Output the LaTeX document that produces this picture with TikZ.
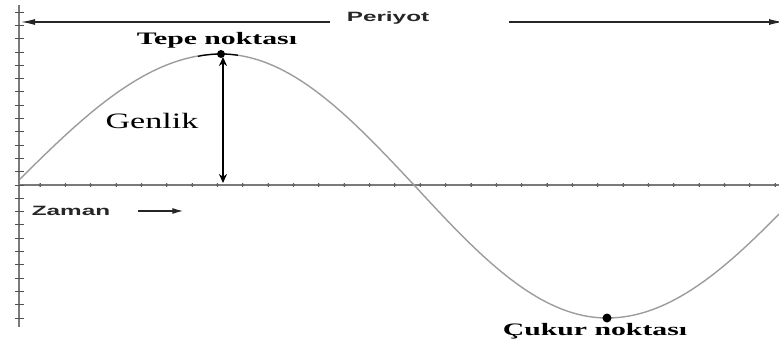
\documentclass[tikz,border=0pt]{standalone}
\usepackage{fontspec}
\usetikzlibrary{arrows.meta}
\newfontfamily\noktafont[FakeStretch=1.7]{Liberation Serif}
\newfontfamily\genlikfont[FakeStretch=1.55]{Liberation Serif}
\newfontfamily\etiketfont[FakeStretch=1.8]{Liberation Sans}
\definecolor{dalga}{HTML}{9C9C9C}
\definecolor{eksen}{HTML}{7A7A7A}
\definecolor{koyu}{HTML}{262626}
\tikzset{
    nokta/.style={inner sep=0pt, font=\noktafont\bfseries\fontsize{17.5}{17.5}\selectfont},
    genliklabel/.style={inner sep=0pt, font=\genlikfont\fontsize{22}{22}\selectfont},
    etiket/.style={inner sep=0pt, text=koyu, font=\etiketfont\bfseries\fontsize{13.5}{13.5}\selectfont},
    eksencizgi/.style={eksen, line width=1.2pt},
    centik/.style={koyu!80, line width=0.9pt},
    dalgacizgi/.style={dalga, line width=1.4pt},
    okcizgi/.style={koyu, line width=1.2pt, -{Latex[length=14pt,width=6pt]}},
}
\begin{document}
\begin{tikzpicture}[x=1pt, y=-1pt]
    \useasboundingbox (0,0) rectangle (779,345);
    % eksenler
    \coordinate (ust) at (19,5);
    \coordinate (alt) at (19,327);
    \coordinate (orijin) at (19,185);
    \coordinate (sag) at (779,185);
    \draw[eksencizgi] (ust) -- (alt);
    \draw[eksencizgi] (orijin) -- (sag);
    \foreach \k in {-13,...,10}
        \draw[centik] (15,{185+13.3*\k}) -- (24,{185+13.3*\k});
    \foreach \k in {0,...,29} {
        \draw[centik] ({40+25.35*\k},183) -- ({40+25.35*\k},187);
        \fill[koyu!70] ({40+25.35*\k},185) circle (1.8pt);
    }
    % dalga
    \draw[dalgacizgi] plot[domain=20:221, samples=60] (\x,{185-131*sin((\x-14)/207*90)})
        -- plot[domain=221:414, samples=60] (\x,{185-131*cos((\x-221)/193*90)})
        -- plot[domain=414:607, samples=60] (\x,{185+133*sin((\x-414)/193*90)})
        -- plot[domain=607:779, samples=50] (\x,{185+133*cos((\x-607)/200*90)});
    \draw[black, line width=1.3pt] plot[domain=198:238, samples=20] (\x,{185-131*cos((\x-221)/193*90)});
    % noktalar
    \coordinate (tepe) at (221,54);
    \coordinate (cukur) at (607,318);
    \coordinate (taban) at (223,185);
    \fill (tepe) circle (4pt);
    \fill (cukur) circle (4.5pt);
    \node[nokta] (tepeyazi) at (217,40) {Tepe noktası};
    \node[nokta] (cukuryazi) at (595,331) {Çukur noktası};
    % genlik
    \node[genliklabel] (genlik) at (152,121) {Genlik};
    \draw[line width=2.2pt, {Stealth[length=9pt,width=8pt]}-{Stealth[length=9pt,width=8pt]}, shorten <=3pt, shorten >=2pt] (tepe -| taban) -- (taban);
    % periyot
    \coordinate (psol) at (21,22);
    \coordinate (psag) at (783,22);
    \node[etiket, anchor=base] (periyot) at (388,22) {Periyot};
    \draw[okcizgi, shorten <=17pt] (periyot.base west) -- (psol);
    \draw[okcizgi, shorten <=80pt] (periyot.base east) -- (psag);
    % zaman
    \node[etiket] (zaman) at (71,211) {Zaman};
    \draw[koyu, line width=1.4pt, -{Latex[length=11pt,width=6pt]}, shorten <=28pt] (zaman.east) -- ++(73,0);
\end{tikzpicture}
\end{document}
